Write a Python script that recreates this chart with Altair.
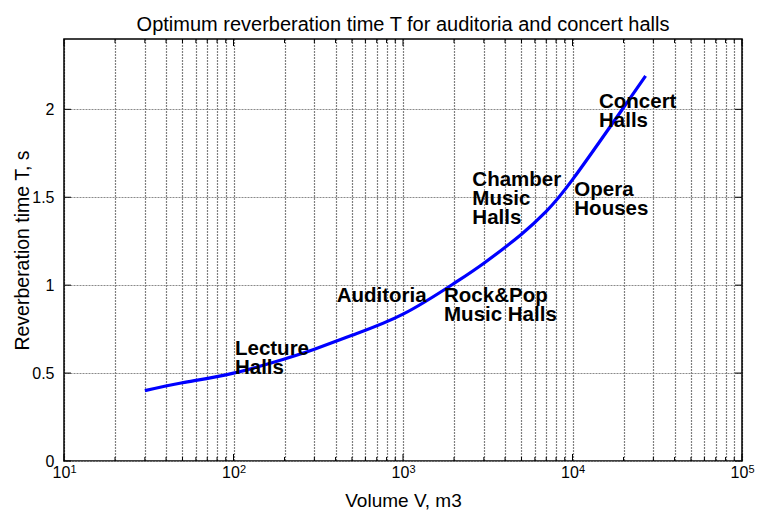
import altair as alt
import pandas as pd

# Optimum reverberation time curve (volume in m3, time in s)
volume = [30, 50, 100, 200, 300, 500, 1000, 2000, 3000, 5000, 7000, 10000, 20000, 27000]
rev_time = [0.40, 0.445, 0.50, 0.58, 0.635, 0.715, 0.835, 1.01, 1.125, 1.29, 1.42, 1.60, 2.01, 2.19]

# Hall-type annotations (anchor = left edge, first-line baseline)
label_text = ["Lecture\nHalls", "Auditoria", "Rock&Pop\nMusic Halls",
              "Chamber\nMusic\nHalls", "Opera\nHouses", "Concert\nHalls"]
label_volume = [102, 406, 1746, 2565, 10250, 14330]
label_time = [0.602, 0.905, 0.905, 1.5625, 1.506, 2.007]

# Axis ticks
decades = [10, 100, 1000, 10000, 100000]
exponents = ["1", "2", "3", "4", "5"]
minor_ticks = [k * d for d in [10, 100, 1000, 10000] for k in range(2, 10)]
y_ticks = [0, 0.5, 1, 1.5, 2]

W, H = 678, 422
FONT = "Liberation Sans"

curve = pd.DataFrame({"V": volume, "T": rev_time})
labels = pd.DataFrame({"V": label_volume, "T": label_time, "txt": label_text})
dec_df = pd.DataFrame({"V": decades, "exp": exponents})
minor_df = pd.DataFrame({"V": minor_ticks})
ytick_df = pd.DataFrame({"T": y_ticks})

grid_values = sorted(decades + minor_ticks)
label_expr = "(" + " || ".join(f"datum.value == {d}" for d in decades) + ") ? '10' : ''"

x_scale = alt.Scale(type="log", domain=[10, 100000], nice=False)
y_scale = alt.Scale(domain=[0, 2.4], nice=False)

x_enc = alt.X(
    "V:Q", scale=x_scale,
    axis=alt.Axis(
        values=grid_values, labelExpr=label_expr, grid=True, gridColor="#000000",
        gridDash=[1, 2], gridOpacity=1, gridWidth=1.2, ticks=False, domain=False,
        labelFont=FONT, labelFontSize=16, labelColor="#000000", labelPadding=3,
        labelOffset=-3, labelFlush=False, labelOverlap=False,
        title="Volume V, m3", titleFont=FONT, titleFontSize=19,
        titleFontWeight="normal", titleColor="#000000", titleBaseline="alphabetic",
        titleX=W / 2, titleY=45,
    ),
)
y_enc = alt.Y(
    "T:Q", scale=y_scale,
    axis=alt.Axis(
        values=y_ticks, format="~g", grid=True, gridColor="#8a8a8a",
        gridDash=[2, 1], gridOpacity=1, gridWidth=1, ticks=False, domain=False,
        labelFont=FONT, labelFontSize=16, labelColor="#000000", labelPadding=10,
        title="Reverberation time T, s", titleFont=FONT, titleFontSize=19.5,
        titleFontWeight="normal", titleColor="#000000", titleBaseline="alphabetic",
        titleX=-36, titleY=H / 2, titleAngle=270,
    ),
)

line = alt.Chart(curve).mark_line(
    color="#0000ff", strokeWidth=3.2, interpolate="natural"
).encode(x=x_enc, y=y_enc)

text = alt.Chart(labels).mark_text(
    align="left", baseline="alphabetic", font=FONT, fontSize=20.5,
    fontWeight="bold", color="#000000", lineBreak="\n", lineHeight=19,
).encode(x=x_enc, y=y_enc, text="txt:N")

exp_text = alt.Chart(dec_df).mark_text(
    align="center", baseline="alphabetic", font=FONT, fontSize=11,
    color="#000000", dx=9.5,
).encode(x=x_enc, y=alt.value(H + 12), text="exp:N")

tick_style = dict(color="#000000", strokeWidth=1)
maj_bot = alt.Chart(dec_df).mark_rule(**tick_style).encode(
    x=x_enc, y=alt.value(H), y2=alt.value(H - 7))
maj_top = alt.Chart(dec_df).mark_rule(**tick_style).encode(
    x=x_enc, y=alt.value(0), y2=alt.value(7))
min_bot = alt.Chart(minor_df).mark_rule(**tick_style).encode(
    x=x_enc, y=alt.value(H), y2=alt.value(H - 4))
min_top = alt.Chart(minor_df).mark_rule(**tick_style).encode(
    x=x_enc, y=alt.value(0), y2=alt.value(4))
y_left = alt.Chart(ytick_df).mark_rule(**tick_style).encode(
    y=y_enc, x=alt.value(0), x2=alt.value(7))
y_right = alt.Chart(ytick_df).mark_rule(**tick_style).encode(
    y=y_enc, x=alt.value(W), x2=alt.value(W - 7))

chart = alt.layer(
    maj_bot, maj_top, min_bot, min_top, y_left, y_right, line, text, exp_text
).properties(
    width=W, height=H,
    autosize=alt.AutoSizeParams(type="none"),
    padding={"left": 64, "top": 39, "right": 16, "bottom": 49},
    background="#ffffff",
    title=alt.TitleParams(
        "Optimum reverberation time T for auditoria and concert halls",
        font=FONT, fontSize=20, fontWeight="normal", color="#000000",
        anchor="middle", baseline="alphabetic", offset=12, dy=24, frame="group",
    ),
).configure_view(
    stroke="#000000", strokeWidth=1.5
)

chart.save("out.html", embed_options={"renderer": "svg", "actions": False})
